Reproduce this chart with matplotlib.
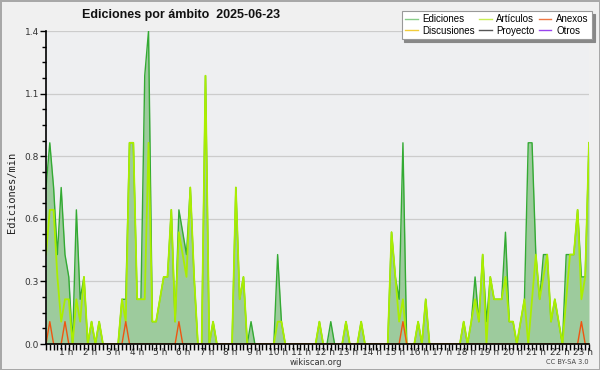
import numpy as np
import matplotlib.pyplot as plt
from matplotlib.lines import Line2D

# ediciones/min por tramo de 10 minutos (144 tramos, 00:00 -> 23:50)
ediciones = [0.7, 0.9, 0.7, 0.4, 0.7, 0.4, 0.3, 0.0, 0.6, 0.2, 0.3, 0.0,
             0.1, 0.0, 0.1, 0.0, 0.0, 0.0, 0.0, 0.0, 0.2, 0.2, 0.9, 0.9,
             0.2, 0.2, 1.2, 1.4, 0.1, 0.1, 0.2, 0.3, 0.3, 0.6, 0.1, 0.6,
             0.5, 0.4, 0.7, 0.3, 0.0, 0.0, 1.2, 0.0, 0.1, 0.0, 0.0, 0.0,
             0.0, 0.0, 0.7, 0.2, 0.3, 0.0, 0.1, 0.0, 0.0, 0.0, 0.0, 0.0,
             0.0, 0.4, 0.1, 0.0, 0.0, 0.0, 0.0, 0.0, 0.0, 0.0, 0.0, 0.0,
             0.1, 0.0, 0.0, 0.1, 0.0, 0.0, 0.0, 0.1, 0.0, 0.0, 0.0, 0.1,
             0.0, 0.0, 0.0, 0.0, 0.0, 0.0, 0.0, 0.5, 0.3, 0.2, 0.9, 0.0,
             0.0, 0.0, 0.1, 0.0, 0.2, 0.0, 0.0, 0.0, 0.0, 0.0, 0.0, 0.0,
             0.0, 0.0, 0.1, 0.0, 0.1, 0.3, 0.1, 0.4, 0.1, 0.3, 0.2, 0.2,
             0.2, 0.5, 0.1, 0.1, 0.0, 0.1, 0.2, 0.9, 0.9, 0.4, 0.2, 0.4,
             0.4, 0.1, 0.2, 0.1, 0.0, 0.4, 0.4, 0.4, 0.6, 0.3, 0.3, 0.9]

articulos = [0.4, 0.6, 0.6, 0.3, 0.1, 0.2, 0.2, 0.0, 0.2, 0.1, 0.3, 0.0,
             0.1, 0.0, 0.1, 0.0, 0.0, 0.0, 0.0, 0.0, 0.2, 0.1, 0.9, 0.9,
             0.2, 0.2, 0.2, 0.9, 0.1, 0.1, 0.2, 0.3, 0.3, 0.6, 0.1, 0.5,
             0.4, 0.3, 0.7, 0.3, 0.0, 0.0, 1.2, 0.0, 0.1, 0.0, 0.0, 0.0,
             0.0, 0.0, 0.7, 0.2, 0.3, 0.0, 0.0, 0.0, 0.0, 0.0, 0.0, 0.0,
             0.0, 0.1, 0.1, 0.0, 0.0, 0.0, 0.0, 0.0, 0.0, 0.0, 0.0, 0.0,
             0.1, 0.0, 0.0, 0.0, 0.0, 0.0, 0.0, 0.1, 0.0, 0.0, 0.0, 0.1,
             0.0, 0.0, 0.0, 0.0, 0.0, 0.0, 0.0, 0.5, 0.3, 0.1, 0.2, 0.0,
             0.0, 0.0, 0.1, 0.0, 0.2, 0.0, 0.0, 0.0, 0.0, 0.0, 0.0, 0.0,
             0.0, 0.0, 0.1, 0.0, 0.1, 0.2, 0.1, 0.4, 0.0, 0.3, 0.2, 0.2,
             0.2, 0.3, 0.1, 0.1, 0.0, 0.1, 0.2, 0.0, 0.2, 0.4, 0.2, 0.3,
             0.4, 0.1, 0.2, 0.1, 0.0, 0.2, 0.4, 0.4, 0.6, 0.2, 0.3, 0.9]

anexos = [0.0, 0.1, 0.0, 0.0, 0.0, 0.1, 0.0, 0.0, 0.0, 0.0, 0.0, 0.0,
          0.0, 0.0, 0.0, 0.0, 0.0, 0.0, 0.0, 0.0, 0.0, 0.1, 0.0, 0.0,
          0.0, 0.0, 0.0, 0.0, 0.0, 0.0, 0.0, 0.0, 0.0, 0.0, 0.0, 0.1,
          0.0, 0.0, 0.0, 0.0, 0.0, 0.0, 0.0, 0.0, 0.0, 0.0, 0.0, 0.0,
          0.0, 0.0, 0.0, 0.0, 0.0, 0.0, 0.0, 0.0, 0.0, 0.0, 0.0, 0.0,
          0.0, 0.0, 0.0, 0.0, 0.0, 0.0, 0.0, 0.0, 0.0, 0.0, 0.0, 0.0,
          0.0, 0.0, 0.0, 0.0, 0.0, 0.0, 0.0, 0.0, 0.0, 0.0, 0.0, 0.0,
          0.0, 0.0, 0.0, 0.0, 0.0, 0.0, 0.0, 0.0, 0.0, 0.0, 0.1, 0.0,
          0.0, 0.0, 0.0, 0.0, 0.0, 0.0, 0.0, 0.0, 0.0, 0.0, 0.0, 0.0,
          0.0, 0.0, 0.0, 0.0, 0.0, 0.0, 0.0, 0.0, 0.0, 0.0, 0.0, 0.0,
          0.0, 0.0, 0.0, 0.0, 0.0, 0.0, 0.0, 0.0, 0.0, 0.0, 0.0, 0.0,
          0.0, 0.0, 0.0, 0.0, 0.0, 0.0, 0.0, 0.0, 0.0, 0.1, 0.0, 0.0]

horas = [f"{h} h" for h in range(1, 24)]
y_ticks = [0.0, 0.28, 0.56, 0.84, 1.12, 1.4]
y_labels = ["0.0", "0.3", "0.6", "0.8", "1.1", "1.4"]

leyenda = ["Ediciones", "Discusiones", "Artículos", "Proyecto", "Anexos", "Otros"]
colores_leyenda = ["#88cc88", "#f2cc3a", "#c8ee55", "#555555", "#ee7744", "#9944ee"]

#------------------------------------------------------------------
x = np.arange(len(ediciones))

fig = plt.figure(figsize=(6, 3.7), dpi=100, facecolor="#f0f0f0",
                 edgecolor="#a8a8a8", linewidth=2)
ax = fig.add_axes([46/600, 26/370, 543/600, 313/370])
ax.set_facecolor("#eeeff1")

ax.fill_between(x, ediciones, color="#9dcb9d", lw=0, zorder=2)
ax.plot(x, ediciones, color="#33aa33", lw=1, zorder=3)
ax.plot(x, articulos, color="#aaee00", lw=1.3, zorder=4)
ax.plot(x, anexos, color="#ee5511", lw=1, zorder=5)

ax.set_xlim(0, len(ediciones) - 1)
ax.set_ylim(0, 1.4)

# etiquetas de hora (algo desplazadas como en el original)
pos_horas = [5.3 + (h - 1) * 6.19 for h in range(1, 24)]
ax.set_xticks(pos_horas, horas)
ax.set_xticks(x, minor=True)
ax.tick_params(axis="x", which="major", length=0, pad=3.2, labelsize=6.5, labelcolor="#333333")
ax.tick_params(axis="x", which="minor", length=4, width=1, color="black")

ax.set_yticks(y_ticks, y_labels)
ax.set_yticks(np.arange(0, 1.41, 0.07), minor=True)
ax.tick_params(axis="y", which="major", length=4, width=1, labelsize=6.5, labelcolor="#333333", pad=1)
ax.tick_params(axis="y", which="minor", length=3, width=1)

ax.grid(axis="y", which="major", color="#cccccc", lw=0.9)
ax.set_axisbelow(True)

for s in ["top", "right"]:
    ax.spines[s].set_visible(False)
for s in ["left", "bottom"]:
    ax.spines[s].set_color("black")
    ax.spines[s].set_linewidth(1.2)
    ax.spines[s].set_zorder(6)

fig.text(181/600, 1 - 15/370, "Ediciones por ámbito  2025-06-23",
         fontsize=9, fontweight="bold", family="Liberation Sans",
         ha="center", va="center", color="#111111")
fig.text(12/600, 1 - 192/370, "Ediciones/min", rotation=90, fontsize=7.5,
         family="DejaVu Sans Mono", ha="center", va="center", color="#222222")
fig.text(316/600, 1 - 362.5/370, "wikiscan.org", fontsize=6, ha="center", va="center", color="#333333")
fig.text(589/600, 1 - 362.5/370, "CC BY-SA 3.0", fontsize=4.8, ha="right", va="center", color="#444444")

handles = [Line2D([], [], color=c, lw=1) for c in colores_leyenda]
leg = fig.legend(handles, leyenda, ncol=3, loc="upper right",
                 bbox_to_anchor=(592/600, 1 - 11/370),
                 prop={"family": "Liberation Sans", "size": 7},
                 frameon=True, fancybox=False, shadow={"color": "#888888", "alpha": 1},
                 handlelength=1.3, handletextpad=0.5, columnspacing=0.4,
                 labelspacing=0.15, borderpad=0.35, borderaxespad=0)
leg.get_frame().set_edgecolor("#999999")
leg.get_frame().set_facecolor("white")
leg.get_frame().set_linewidth(0.8)

fig.savefig("out.png", dpi=100)
